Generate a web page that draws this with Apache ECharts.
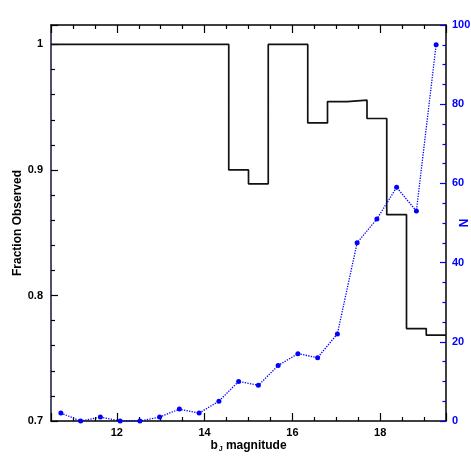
<!DOCTYPE html>
<html>
<head>
<meta charset="utf-8">
<script src="https://cdn.jsdelivr.net/npm/echarts@6/dist/echarts.min.js"></script>
<style>
  html, body { margin: 0; padding: 0; background: #fff; }
  #chart { width: 471px; height: 471px; }
</style>
</head>
<body>
<div id="chart"></div>
<script>
// bin centres (b_J magnitude), bins are 0.45 mag wide
var magnitudes = [10.725, 11.175, 11.625, 12.075, 12.525, 12.975, 13.425, 13.875, 14.325, 14.775,
                  15.225, 15.675, 16.125, 16.575, 17.025, 17.475, 17.925, 18.375, 18.825, 19.275];
var binWidth = 0.45;
// fraction observed per bin (left axis)
var fraction = [1, 1, 1, 1, 1, 1, 1, 1, 1, 0.9,
                0.889, 1, 1, 0.9375, 0.9545, 0.9556, 0.941, 0.8644, 0.7736, 0.7684];
// number of objects per bin (right axis)
var counts = [2, 0, 1, 0, 0, 1, 3, 2, 5, 10,
              9, 14, 17, 16, 22, 45, 51, 59, 53, 95];

var FONT = '"Liberation Sans", Helvetica, Arial, sans-serif';
var BLUE = '#0000ff';

// histogram outline: one point per bin left edge, plus the right edge of the last bin
var histData = magnitudes.map(function (m, i) { return [m - binWidth / 2, fraction[i]]; });
histData.push([magnitudes[magnitudes.length - 1] + binWidth / 2, fraction[fraction.length - 1]]);

var countData = magnitudes.map(function (m, i) { return [m, counts[i]]; });

var chart = echarts.init(document.getElementById('chart'));

var xBase = {
  type: 'value',
  min: 10.5,
  max: 19.5,
  splitNumber: 5,
  axisLine: { show: true, lineStyle: { color: '#000', width: 1.5 } },
  axisTick: { show: true, inside: true, length: 8, lineStyle: { color: '#000', width: 1.2 } },
  minorTick: { show: true, splitNumber: 4, length: 4, lineStyle: { color: '#000', width: 1.2 } },
  splitLine: { show: false }
};

var option = {
  animation: false,
  backgroundColor: '#fff',
  grid: { left: 51, right: 25, top: 25, bottom: 50, outerBoundsMode: 'none', containLabel: false },
  xAxis: [
    Object.assign({}, xBase, {
      position: 'bottom',
      name: '{b|b}{sub|J}{b| magnitude}',
      nameLocation: 'middle',
      nameGap: 19,
      nameMoveOverlap: false,
      nameTextStyle: {
        rich: {
          b: { fontFamily: FONT, fontWeight: 'bold', fontSize: 12, color: '#000' },
          sub: { fontFamily: FONT, fontWeight: 'bold', fontSize: 7, color: '#000', verticalAlign: 'bottom', padding: [0, 0, -1, 1] }
        }
      },
      axisLabel: {
        margin: 6,
        fontFamily: FONT, fontWeight: 'bold', fontSize: 11, color: '#000',
        formatter: function (v) { return (Math.abs(v - Math.round(v)) < 1e-6 && Math.round(v) % 2 === 0) ? String(v) : ''; }
      }
    }),
    Object.assign({}, xBase, {
      position: 'top',
      axisLabel: { show: false }
    })
  ],
  yAxis: [
    {
      type: 'value',
      position: 'left',
      min: 0.7,
      max: 1.0155,
      interval: 0.1,
      name: 'Fraction Observed',
      nameLocation: 'middle',
      nameGap: 27,
      nameMoveOverlap: false,
      nameTextStyle: { fontFamily: FONT, fontWeight: 'bold', fontSize: 12, color: '#000' },
      axisLine: { show: true, lineStyle: { color: '#14143a', width: 1.5 } },
      axisTick: { show: true, inside: true, length: 7, lineStyle: { color: '#000', width: 1.2 } },
      minorTick: { show: true, splitNumber: 5, length: 4, lineStyle: { color: '#000', width: 1.2 } },
      splitLine: { show: false },
      axisLabel: {
        margin: 8,
        fontFamily: FONT, fontWeight: 'bold', fontSize: 11, color: '#000',
        formatter: function (v) {
          var t = v * 10;
          return Math.abs(t - Math.round(t)) < 1e-6 ? String(Math.round(t) / 10) : '';
        }
      }
    },
    {
      type: 'value',
      position: 'right',
      min: 0,
      max: 100,
      interval: 20,
      name: 'N',
      nameLocation: 'middle',
      nameGap: 10,
      nameRotate: -90,
      nameMoveOverlap: false,
      nameTextStyle: { fontFamily: FONT, fontWeight: 'bold', fontSize: 12, color: BLUE },
      axisLine: { show: true, lineStyle: { color: '#000', width: 1.5 } },
      axisTick: { show: true, inside: true, length: 6, lineStyle: { color: BLUE, width: 1.2 } },
      minorTick: { show: true, splitNumber: 4, length: 3.5, lineStyle: { color: BLUE, width: 1.2 } },
      splitLine: { show: false },
      axisLabel: {
        margin: 6,
        fontFamily: FONT, fontWeight: 'bold', fontSize: 11, color: BLUE
      }
    }
  ],
  series: [
    {
      name: 'fraction',
      type: 'line',
      xAxisIndex: 0,
      yAxisIndex: 0,
      step: 'end',
      data: histData,
      showSymbol: false,
      symbol: 'none',
      lineStyle: { color: '#111', width: 1.7 }
    },
    {
      name: 'N',
      type: 'line',
      xAxisIndex: 0,
      yAxisIndex: 1,
      data: countData,
      symbol: 'circle',
      symbolSize: 5,
      itemStyle: { color: BLUE },
      lineStyle: { color: BLUE, width: 1.3, type: 'dotted' }
    }
  ]
};

chart.setOption(option);
</script>
</body>
</html>
